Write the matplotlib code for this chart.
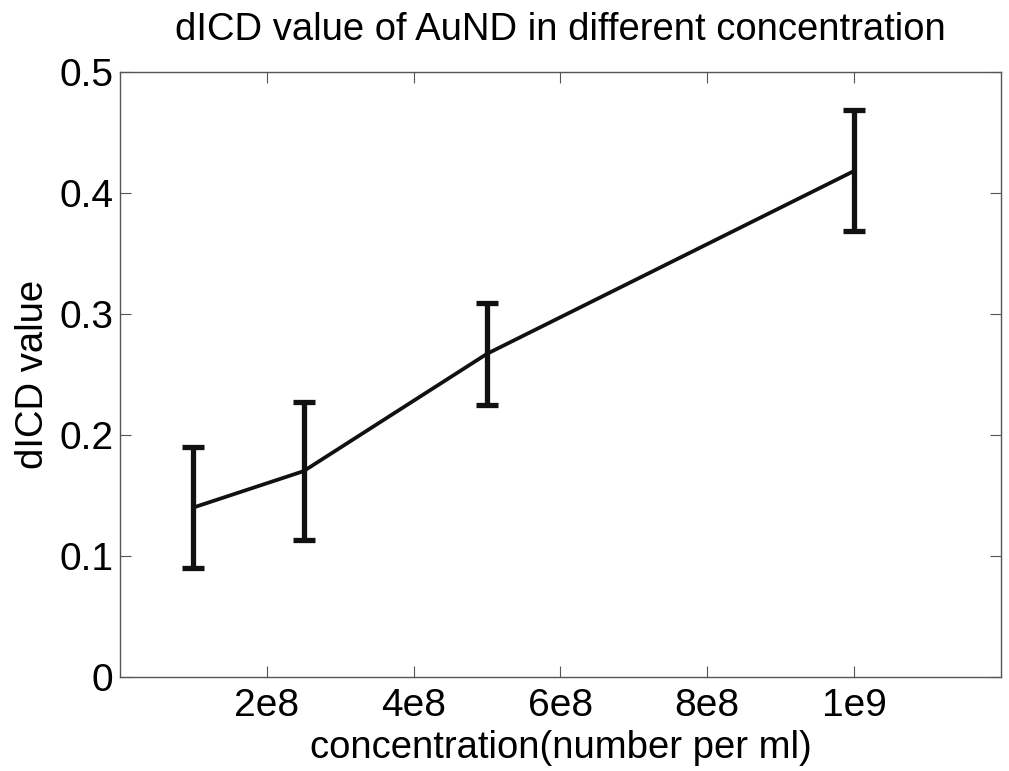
import matplotlib.pyplot as plt
from matplotlib.ticker import FixedLocator, FixedFormatter

plt.rcParams["font.family"] = ["Liberation Sans", "DejaVu Sans"]

# AuND concentration (particles per ml) and measured dICD with spread
concentration = [1e8, 2.5e8, 5e8, 1e9]
dicd = [0.14, 0.17, 0.267, 0.418]
dicd_err = [0.05, 0.057, 0.042, 0.05]

x_ticks = [2e8, 4e8, 6e8, 8e8, 1e9]
x_tick_labels = ["2e8", "4e8", "6e8", "8e8", "1e9"]
y_ticks = [0, 0.1, 0.2, 0.3, 0.4, 0.5]
y_tick_labels = ["0", "0.1", "0.2", "0.3", "0.4", "0.5"]

fig = plt.figure(figsize=(10.09, 7.71), dpi=100)
ax = fig.add_axes([0.119, 0.122, 0.873, 0.785])

ax.errorbar(concentration, dicd, yerr=dicd_err, color="#111111",
            linewidth=2.7, elinewidth=3.8, capsize=8, capthick=3.8)

ax.set_xlim(0, 1.2e9)
ax.set_ylim(0, 0.5)
ax.xaxis.set_major_locator(FixedLocator(x_ticks))
ax.xaxis.set_major_formatter(FixedFormatter(x_tick_labels))
ax.yaxis.set_major_locator(FixedLocator(y_ticks))
ax.yaxis.set_major_formatter(FixedFormatter(y_tick_labels))

ax.tick_params(direction="in", length=8, width=0.8, color="#555555",
               labelsize=28, top=True, right=True, pad=5)
ax.tick_params(axis="x", pad=8)
for spine in ax.spines.values():
    spine.set_color("#555555")
    spine.set_linewidth(1.0)

ax.set_title("dICD value of AuND in different concentration", fontsize=27.5, pad=23)
ax.set_xlabel("concentration(number per ml)", fontsize=27.5, labelpad=4)
ax.set_ylabel("dICD value", fontsize=27.5, labelpad=6)

fig.savefig("out.png", dpi=100)
